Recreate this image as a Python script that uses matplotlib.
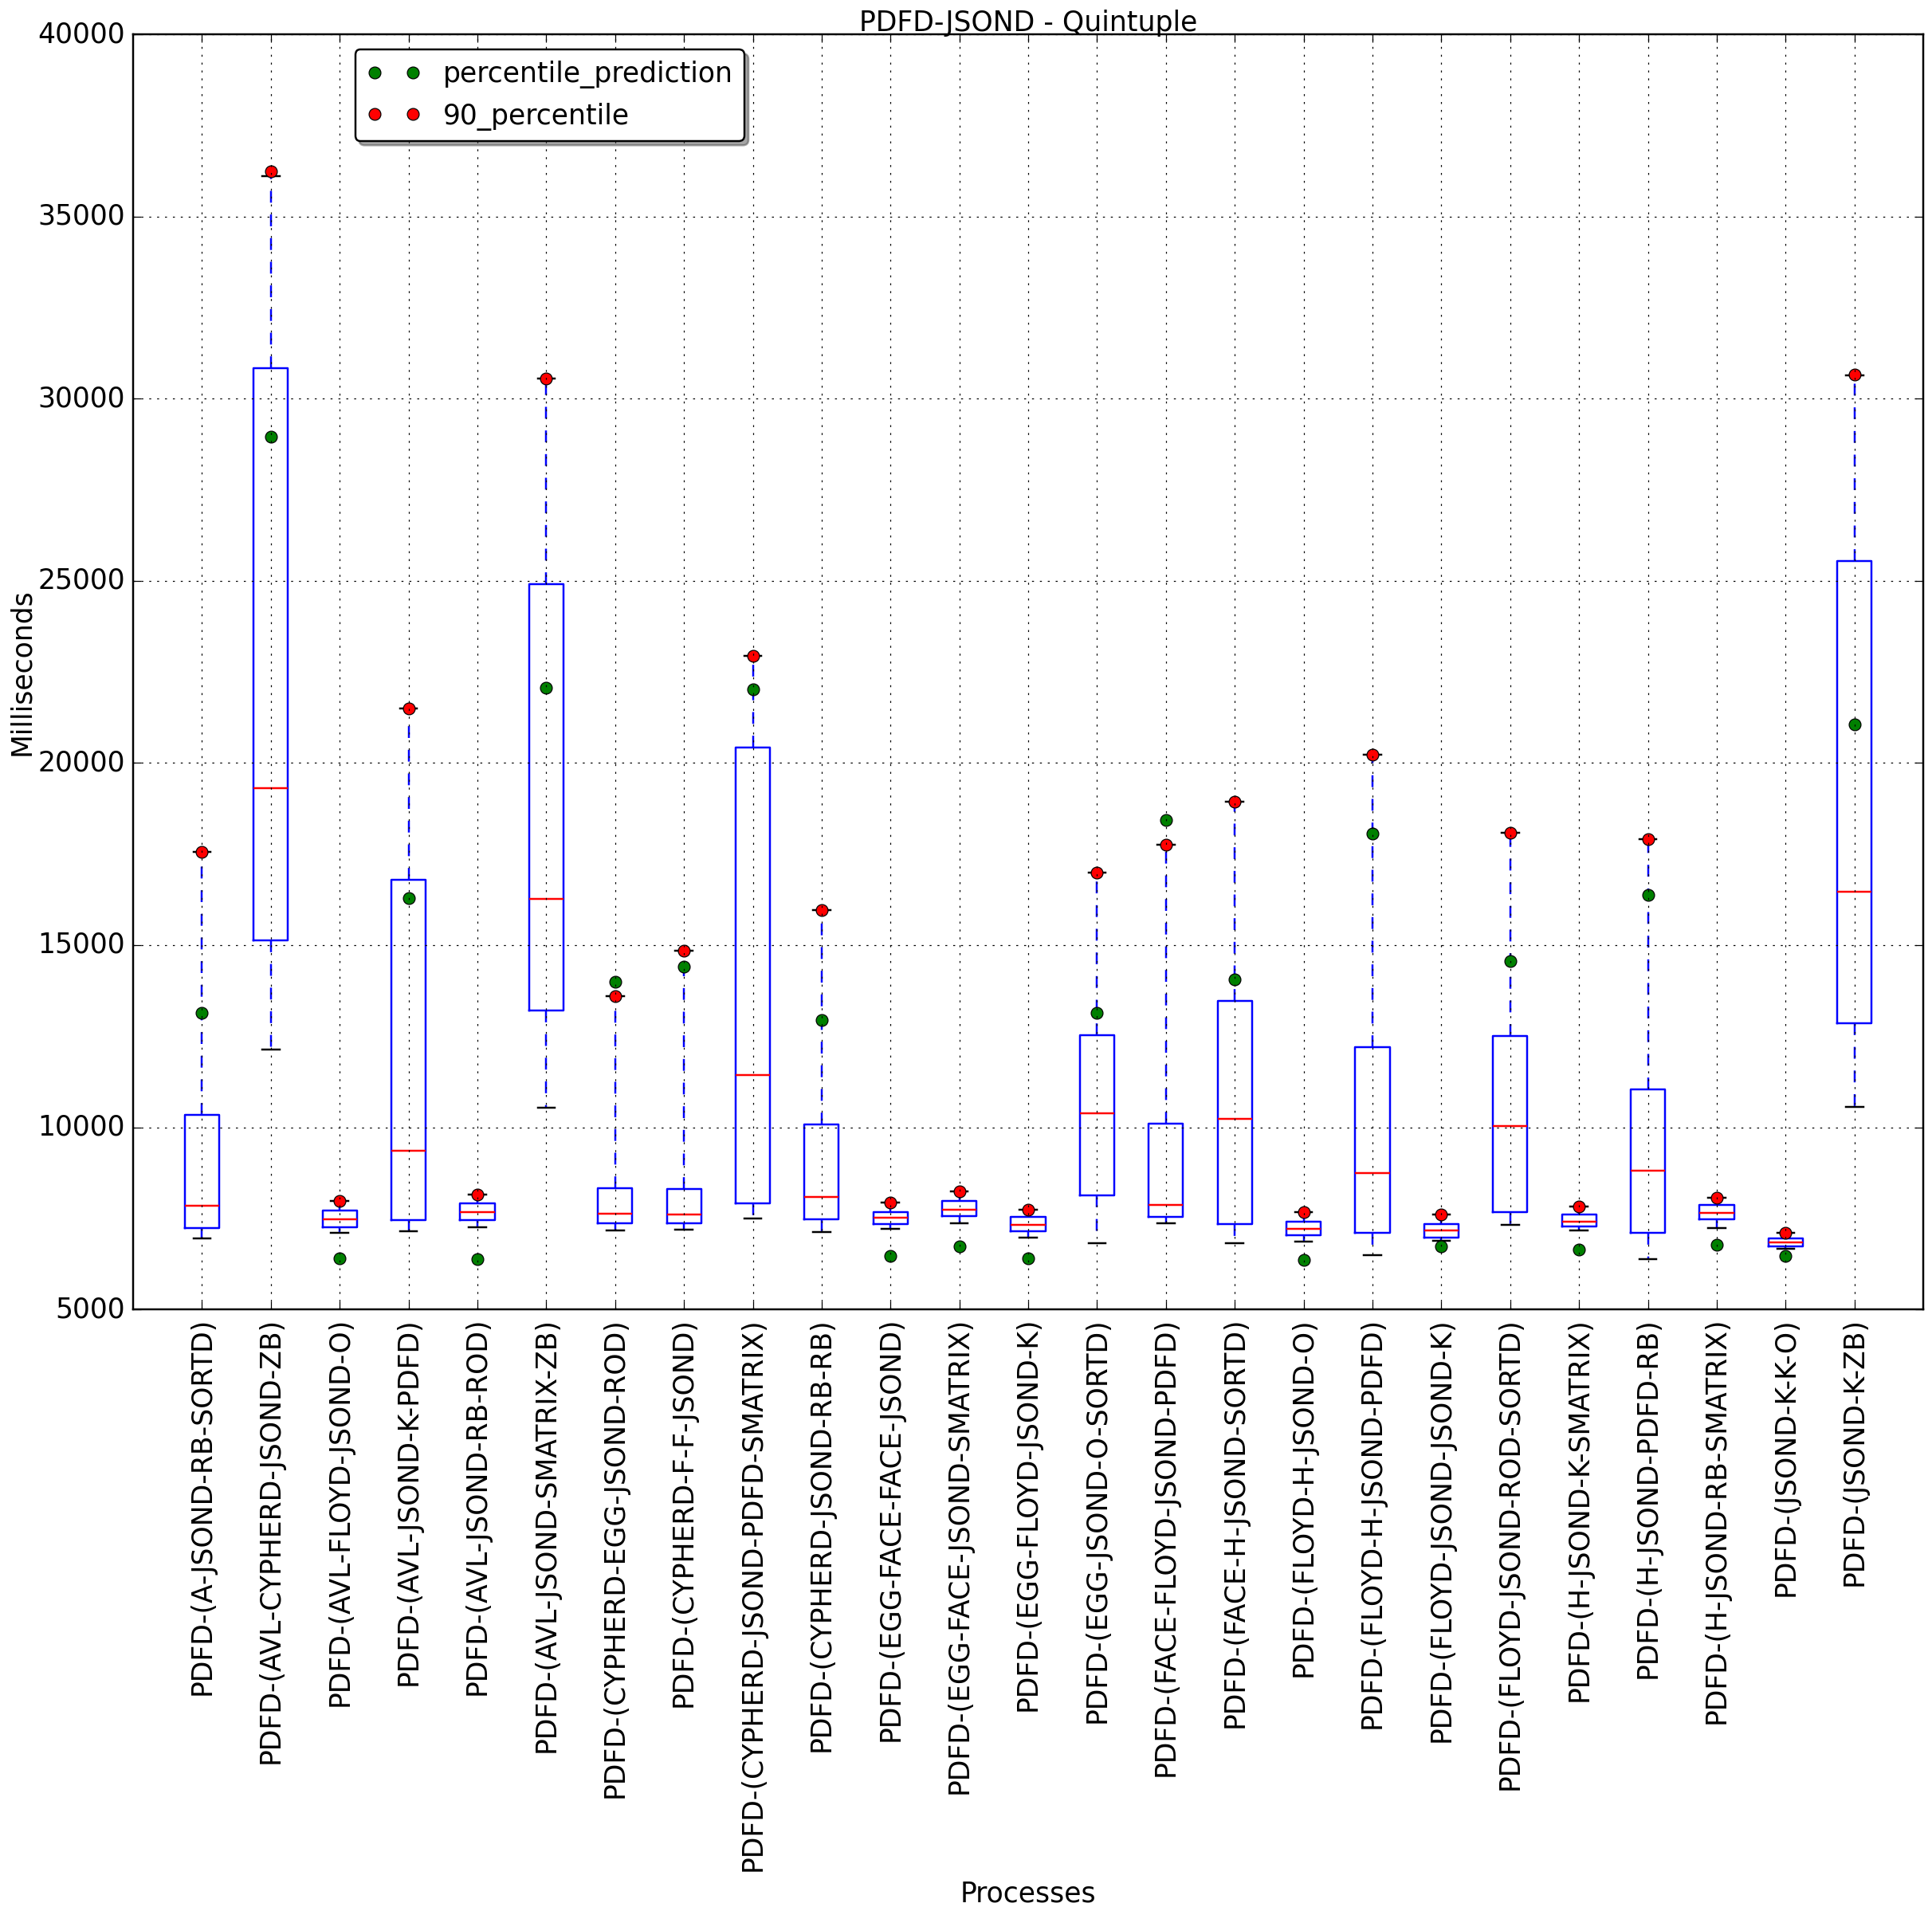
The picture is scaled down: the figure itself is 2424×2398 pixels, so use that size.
import numpy as np
import matplotlib
matplotlib.use("Agg")
import matplotlib.pyplot as plt

plt.style.use("classic")

# process names (x axis)
processes = ["A-JSOND-RB-SORTD", "AVL-CYPHERD-JSOND-ZB", "AVL-FLOYD-JSOND-O", "AVL-JSOND-K-PDFD",
             "AVL-JSOND-RB-ROD", "AVL-JSOND-SMATRIX-ZB", "CYPHERD-EGG-JSOND-ROD", "CYPHERD-F-F-JSOND",
             "CYPHERD-JSOND-PDFD-SMATRIX", "CYPHERD-JSOND-RB-RB", "EGG-FACE-FACE-JSOND",
             "EGG-FACE-JSOND-SMATRIX", "EGG-FLOYD-JSOND-K", "EGG-JSOND-O-SORTD", "FACE-FLOYD-JSOND-PDFD",
             "FACE-H-JSOND-SORTD", "FLOYD-H-JSOND-O", "FLOYD-H-JSOND-PDFD", "FLOYD-JSOND-JSOND-K",
             "FLOYD-JSOND-ROD-SORTD", "H-JSOND-K-SMATRIX", "H-JSOND-PDFD-RB", "H-JSOND-RB-SMATRIX",
             "JSOND-K-K-O", "JSOND-K-ZB"]
labels = ["PDFD-(" + p + ")" for p in processes]

# box stats (milliseconds)
whis_lo = [6950, 12140, 7095, 7140, 7260, 10530, 7160, 7180, 7490, 7120, 7220, 7370, 6970,
           6820, 7370, 6820, 6860, 6490, 6890, 7330, 7160, 6380, 7240, 6660, 10550]
q1 = [7240, 15140, 7260, 7450, 7450, 13210, 7370, 7370, 7910, 7470, 7350, 7560, 7140,
      8120, 7535, 7350, 7030, 7095, 6970, 7680, 7280, 7095, 7470, 6720, 12850]
med = [7850, 19310, 7470, 9360, 7680, 16270, 7620, 7600, 11430, 8080, 7510, 7740, 7330,
       10380, 7870, 10240, 7220, 8750, 7160, 10030, 7410, 8810, 7660, 6840, 16460]
q3 = [10340, 30830, 7720, 16790, 7910, 24920, 8330, 8310, 20420, 10070, 7680, 7970, 7530,
      12520, 10090, 13460, 7410, 12210, 7350, 12500, 7600, 11030, 7870, 6950, 25550]
whis_hi = [17550, 36100, 7970, 21500, 8160, 30555, 13590, 14845, 22950, 15955, 7930, 8230, 7740,
           16980, 17760, 18930, 7680, 20230, 7600, 18090, 7830, 17920, 8060, 7100, 30650]

# points
pct90 = [17550, 36250, 7970, 21500, 8160, 30555, 13590, 14845, 22950, 15955, 7930, 8230, 7740,
         16980, 17760, 18930, 7680, 20230, 7600, 18090, 7830, 17920, 8060, 7100, 30660]
pred = [13150, 28960, 6400, 16290, 6380, 22070, 13990, 14405, 22030, 12940, 6470, 6720, 6400,
        13150, 18430, 14050, 6360, 18070, 6720, 14570, 6650, 16370, 6780, 6460, 21060]

stats = []
for i in range(len(labels)):
    stats.append({"label": labels[i], "whislo": whis_lo[i], "q1": q1[i], "med": med[i],
                  "q3": q3[i], "whishi": whis_hi[i], "fliers": []})

DPI = 178
fig = plt.figure(figsize=(2424 / DPI, 2398 / DPI), dpi=DPI)
ax = fig.add_axes([0.0689, 0.3148, 0.9266, 0.6672])

pos = np.arange(1, len(labels) + 1)
ax.bxp(stats, positions=pos, widths=0.5, showfliers=False,
       boxprops=dict(color="b"), whiskerprops=dict(color="b", linestyle="--"),
       capprops=dict(color="k"), medianprops=dict(color="r"))

ax.plot(pos, pred, "go", markersize=6, label="percentile_prediction")
ax.plot(pos, pct90, "ro", markersize=6, label="90_percentile")

ax.set_xlim(0, len(labels) + 1)
ax.set_ylim(5000, 40000)
ax.set_xticks(pos)
ax.set_xticklabels(labels, rotation=90, fontsize=14)
ax.tick_params(axis="y", labelsize=14)
ax.grid(True)

ax.set_title("PDFD-JSOND - Quintuple", fontsize=14, pad=1.5)
ax.set_xlabel("Processes", fontsize=14)
ax.set_ylabel("Milliseconds", fontsize=14, labelpad=1.5)

ax.legend(loc="upper left", bbox_to_anchor=(0.124, 0.988), borderaxespad=0,
          numpoints=2, fancybox=True, shadow=True, fontsize=14)

fig.savefig("out.png", dpi=DPI)
